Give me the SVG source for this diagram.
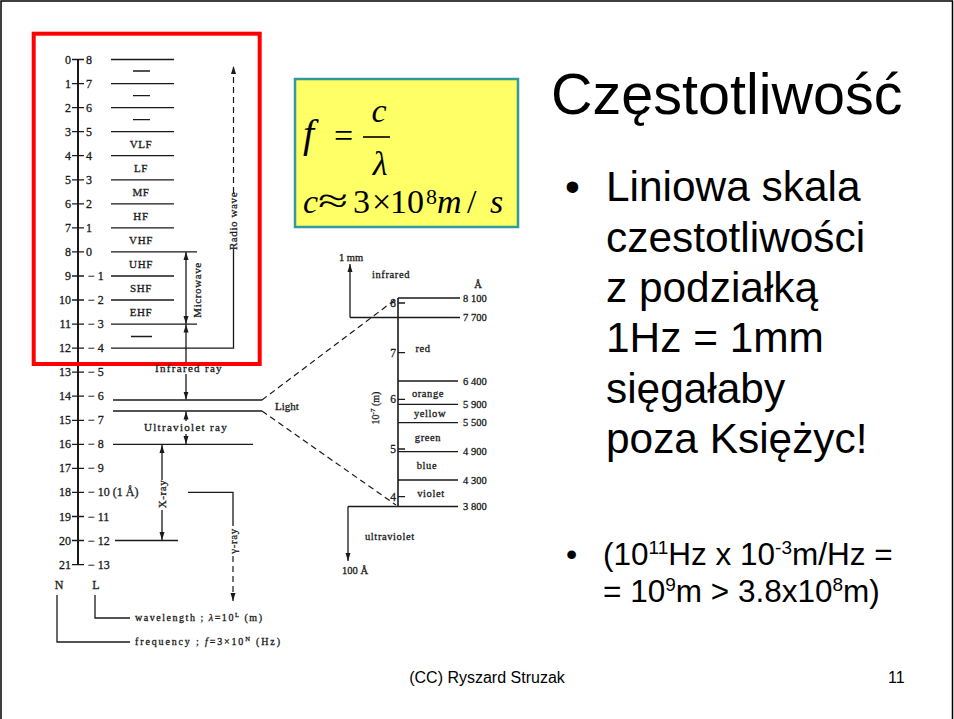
<svg xmlns="http://www.w3.org/2000/svg" width="954" height="719" viewBox="0 0 954 719">
<defs>
<marker id="ah" markerUnits="userSpaceOnUse" markerWidth="9" markerHeight="6" refX="8" refY="3" orient="auto-start-reverse" viewBox="0 0 9 6">
<path d="M0,0.5 L8,3 L0,5.5 z" fill="#1a1a1a"/>
</marker>
<style>
.sc{font-family:"Liberation Serif","Times New Roman",serif;fill:#1a1a1a;stroke:#1a1a1a;stroke-width:0.3;}
.n{font-size:12px;text-anchor:end;}
.l{font-size:12px;}
.b{font-size:11px;text-anchor:middle;letter-spacing:0.6px;}
.r{font-size:10.5px;}
.ln{fill:none;stroke:#1a1a1a;stroke-width:1.3;}
.ax{fill:none;stroke:#1a1a1a;stroke-width:2;}
.ds{fill:none;stroke:#1a1a1a;stroke-width:1.2;stroke-dasharray:6 4;}
.ar{marker-end:url(#ah);}
.as{marker-start:url(#ah);}
.ss{font-family:"Liberation Sans",Arial,sans-serif;fill:#000;}
.mf{font-family:"Liberation Serif","Times New Roman",serif;fill:#000;}
.it{font-style:italic;}
</style>
</defs>
<rect x="0" y="0" width="954" height="719" fill="#fff"/>
<path d="M1,719 V1 H952.5 V719" fill="none" stroke="#000" stroke-width="1.5"/>

<g id="connectors">
<path class="ax" d="M78,59.5 V564.6"/>
<path class="ln" d="M72,59.5 H84 M72,83.6 H84 M72,107.6 H84 M72,131.7 H84 M72,155.7 H84 M72,179.8 H84 M72,203.8 H84 M72,227.9 H84 M72,251.9 H84 M72,276 H84 M72,300 H84 M72,324.1 H84 M72,348.1 H84 M72,372.2 H84 M72,396.2 H84 M72,420.3 H84 M72,444.3 H84 M72,468.4 H84 M72,492.4 H84 M72,516.5 H84 M72,540.5 H84 M72,564.6 H84"/>
<path class="ln" d="M111,59.5 H174 M111,83.6 H174 M111,107.6 H174 M111,131.7 H174 M111,155.7 H174 M111,179.8 H174 M111,203.8 H174 M111,227.9 H174 M111,251.9 H197 M111,276 H174 M111,300 H174 M111,324.1 H197 M111,348.1 H233.5 V249"/>
<path class="ln" d="M133,71 H150 M133,95.6 H150 M133,119.6 H150 M131,336.5 H152"/>
<path class="ds ar" d="M233.5,193 V66"/>
<path class="ln ar as" d="M186,252 V324"/>
<path class="ln as" d="M186,324.5 V362"/>
<path class="ln ar" d="M186,374 V399.5"/>
<path class="ln" d="M113,400 H262 M113,411 H262 M113,444.3 H253 M115,540.5 H178"/>
<path class="ds" d="M262,400 L396,299 M262,411 L396,505"/>
<path class="ln as" d="M186,411.5 V421"/>
<path class="ln ar" d="M186,434 V444"/>
<path class="ln as" d="M162,445 V480"/>
<path class="ln ar" d="M162,510 V540"/>
<path class="ln" d="M188,492.4 H233 V526"/>
<path class="ds ar" d="M233,556 V601"/>
<path class="ln" d="M57,595 V642 H130 M95,595 V618 H130"/>
<path class="ax" style="stroke-width:1.6" d="M398,298 V506.5"/>
<path class="ln" d="M398,298 H460 M350,317.5 H460 M398,381 H458 M398,404.3 H458 M398,422.7 H458 M398,451.7 H458 M398,480 H458 M348,506.5 H458"/>
<path class="ln" d="M398,303 H405 M398,352.7 H405 M398,399.3 H405 M398,449 H405 M398,496.7 H405"/>
<path class="ln ar" d="M350,317.5 V264"/>
<path class="ln ar" d="M348,506.5 V561"/>
</g>

<g id="frame">
<rect x="33.7" y="33.7" width="226" height="330.3" fill="none" stroke="#ff0000" stroke-width="4"/>
</g>

<g id="n-labels" class="sc n">
<text x="71" y="63.5">0</text><text x="71" y="87.6">1</text><text x="71" y="111.6">2</text><text x="71" y="135.7">3</text><text x="71" y="159.7">4</text><text x="71" y="183.8">5</text><text x="71" y="207.8">6</text><text x="71" y="231.9">7</text><text x="71" y="255.9">8</text><text x="71" y="280">9</text><text x="71" y="304">10</text><text x="71" y="328.1">11</text><text x="71" y="352.1">12</text><text x="71" y="376.2">13</text><text x="71" y="400.2">14</text><text x="71" y="424.3">15</text><text x="71" y="448.3">16</text><text x="71" y="472.4">17</text><text x="71" y="496.4">18</text><text x="71" y="520.5">19</text><text x="71" y="544.5">20</text><text x="71" y="568.6">21</text>
</g>
<g id="l-labels" class="sc l">
<text x="86" y="63.5">8</text><text x="86" y="87.6">7</text><text x="86" y="111.6">6</text><text x="86" y="135.7">5</text><text x="86" y="159.7">4</text><text x="86" y="183.8">3</text><text x="86" y="207.8">2</text><text x="86" y="231.9">1</text><text x="86" y="255.9">0</text><text x="88" y="280">− 1</text><text x="88" y="304">− 2</text><text x="88" y="328.1">− 3</text><text x="88" y="352.1">− 4</text><text x="88" y="376.2">− 5</text><text x="88" y="400.2">− 6</text><text x="88" y="424.3">− 7</text><text x="88" y="448.3">− 8</text><text x="88" y="472.4">− 9</text><text x="88" y="496.4">− 10 (1 Å)</text><text x="88" y="520.5">− 11</text><text x="88" y="544.5">− 12</text><text x="88" y="568.6">− 13</text>
</g>
<g id="bands" class="sc b">
<text x="141" y="147.7">VLF</text><text x="141" y="171.8">LF</text><text x="141" y="195.8">MF</text><text x="141" y="219.9">HF</text><text x="141" y="243.9">VHF</text><text x="141" y="268">UHF</text><text x="141" y="292">SHF</text><text x="141" y="316">EHF</text>
</g>
<g id="radio-wave" class="sc b"><text transform="translate(237,221) rotate(-90)">Radio wave</text></g>
<g id="microwave" class="sc b"><text transform="translate(201,290) rotate(-90)">Microwave</text></g>
<g id="infrared-ray" class="sc b"><text x="189" y="371.5" letter-spacing="1.3">Infrared ray</text></g>
<g id="ultraviolet-ray" class="sc b"><text x="186" y="431" letter-spacing="1.3">Ultraviolet ray</text></g>
<g id="light" class="sc"><text x="275" y="409.5" font-size="11">Light</text></g>
<g id="x-ray" class="sc b"><text transform="translate(165.5,494) rotate(-90)">X-ray</text></g>
<g id="gamma-ray" class="sc b"><text transform="translate(236.5,541) rotate(-90)">γ-ray</text></g>
<g id="legend" class="sc">
<text x="59" y="589" font-size="12" text-anchor="middle">N</text>
<text x="96" y="589" font-size="12" text-anchor="middle">L</text>
<text x="135" y="621" font-size="10" textLength="127" lengthAdjust="spacing">wavelength ; <tspan font-style="italic">λ</tspan>=10<tspan font-size="6.5" dy="-4">L</tspan><tspan dy="4"> (m)</tspan></text>
<text x="135" y="645" font-size="10" textLength="145" lengthAdjust="spacing">frequency ; <tspan font-style="italic">f</tspan>=3×10<tspan font-size="6.5" dy="-4">N</tspan><tspan dy="4"> (Hz)</tspan></text>
</g>

<g id="visible-spectrum" class="sc r">
<text x="351" y="261" text-anchor="middle">1 mm</text>
<text x="372" y="277.5" letter-spacing="0.6">infrared</text>
<text x="478" y="287.5" text-anchor="middle">Å</text>
<text x="463" y="301.5">8 100</text>
<text x="463" y="321">7 700</text>
<text x="463" y="384.5">6 400</text>
<text x="463" y="408">5 900</text>
<text x="463" y="426">5 500</text>
<text x="463" y="455">4 900</text>
<text x="463" y="483.5">4 300</text>
<text x="463" y="510">3 800</text>
<text x="396" y="307" text-anchor="end" font-size="11.5">8</text>
<text x="396" y="356.5" text-anchor="end" font-size="11.5">7</text>
<text x="396" y="403" text-anchor="end" font-size="11.5">6</text>
<text x="396" y="453" text-anchor="end" font-size="11.5">5</text>
<text x="396" y="500.5" text-anchor="end" font-size="11.5">4</text>
<text x="423" y="352" text-anchor="middle" letter-spacing="0.6">red</text>
<text x="428" y="396.5" text-anchor="middle" letter-spacing="0.6">orange</text>
<text x="430" y="417" text-anchor="middle" letter-spacing="0.6">yellow</text>
<text x="428" y="441" text-anchor="middle" letter-spacing="0.6">green</text>
<text x="427" y="469" text-anchor="middle" letter-spacing="0.6">blue</text>
<text x="431" y="496.5" text-anchor="middle" letter-spacing="0.6">violet</text>
<text x="365" y="540" letter-spacing="0.6">ultraviolet</text>
<text x="342" y="574">100 Å</text>
<text transform="translate(379,408) rotate(-90)" text-anchor="middle" font-size="10">10<tspan font-size="7" dy="-4">-7</tspan><tspan dy="4"> (m)</tspan></text>
</g>

<g id="formula">
<rect x="295" y="79" width="223" height="148" fill="#ffff66" stroke="#339999" stroke-width="2.5"/>
<text class="mf it" x="303" y="147" font-size="40">f</text>
<text class="mf" x="334" y="147" font-size="34">=</text>
<line x1="363" y1="137" x2="390" y2="137" stroke="#000" stroke-width="1.6"/>
<text class="mf it" x="379" y="122" font-size="34" text-anchor="middle">c</text>
<text class="mf it" x="380" y="175" font-size="34" text-anchor="middle">λ</text>
<text class="mf it" x="303" y="213" font-size="34">c</text>
<text class="mf" x="318" y="212" font-size="34" textLength="30" lengthAdjust="spacingAndGlyphs">≈</text>
<text class="mf" x="353" y="213" font-size="34">3</text>
<text class="mf" x="372" y="213" font-size="34">×</text>
<text class="mf" x="390" y="213" font-size="34">10</text>
<text class="mf" x="426" y="204" font-size="22">8</text>
<text class="mf it" x="437" y="213" font-size="34">m</text>
<text class="mf" x="467" y="213" font-size="34">/</text>
<text class="mf it" x="490" y="213" font-size="34">s</text>
</g>

<g id="title"><text class="ss" x="551" y="114" font-size="57.5">Częstotliwość</text></g>
<g id="bullet1" class="ss" font-size="42.4">
<text x="565" y="201">•</text>
<text x="606" y="201">Liniowa skala</text>
<text x="606" y="252">czestotliwości</text>
<text x="606" y="302">z podziałką</text>
<text x="606" y="352">1Hz = 1mm</text>
<text x="606" y="403">sięgałaby</text>
<text x="606" y="453">poza Księżyc!</text>
</g>
<g id="bullet2" class="ss" font-size="31.5">
<text x="566" y="565" font-size="32">•</text>
<text x="603" y="565">(10<tspan font-size="19" dy="-11">11</tspan><tspan dy="11">Hz x 10</tspan><tspan font-size="19" dy="-11">-3</tspan><tspan dy="11">m/Hz =</tspan></text>
<text x="603" y="602">= 10<tspan font-size="19" dy="-11">9</tspan><tspan dy="11">m &gt; 3.8x10</tspan><tspan font-size="19" dy="-11">8</tspan><tspan dy="11">m)</tspan></text>
</g>
<g id="footer" class="ss" font-size="16">
<text x="487" y="683" text-anchor="middle">(CC) Ryszard Struzak</text>
<text x="888" y="683">11</text>
</g>
</svg>
